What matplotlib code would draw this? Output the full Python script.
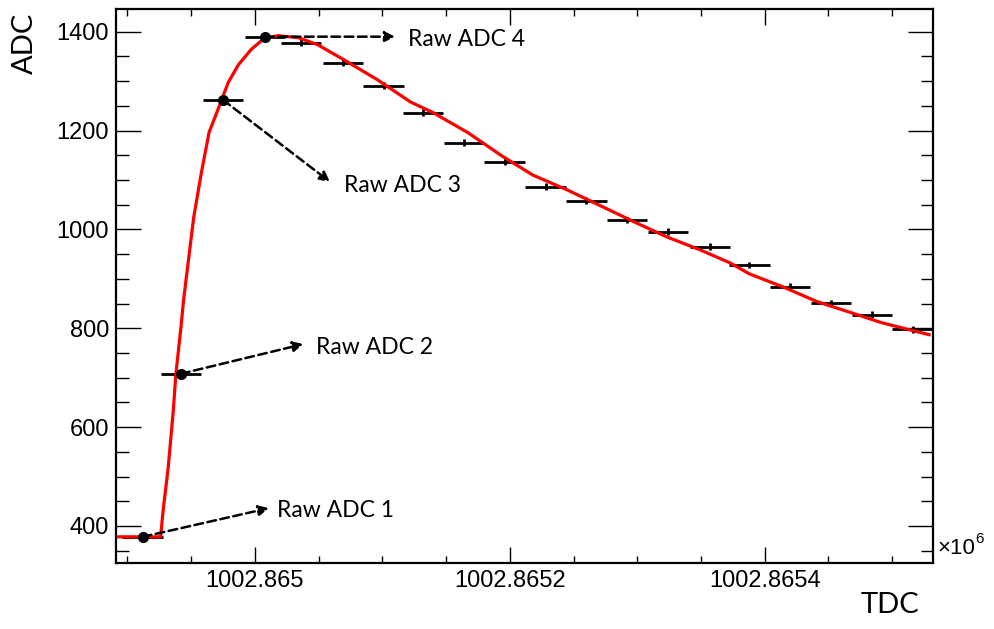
import matplotlib.pyplot as plt
from matplotlib.ticker import MultipleLocator, FuncFormatter

# bin centres (TDC) and measured ADC values
tdc = [1002864912, 1002864942, 1002864975, 1002865008, 1002865036,
       1002865069, 1002865101, 1002865132, 1002865164, 1002865196,
       1002865228, 1002865260, 1002865292, 1002865324, 1002865357,
       1002865388, 1002865420, 1002865452, 1002865484, 1002865516]
adc = [378, 708, 1262, 1390, 1378, 1337, 1291, 1236, 1175, 1137,
       1086, 1058, 1019, 995, 965, 928, 884, 851, 827, 798]
half_bin = 15.9
adc_err = 7

# raw samples marked with dots
raw_idx = [0, 1, 2, 3]
raw_labels = ["Raw ADC 1", "Raw ADC 2", "Raw ADC 3", "Raw ADC 4"]

# fitted pulse shape
fit_tdc = [1002864893, 1002864926, 1002864928, 1002864932, 1002864936,
           1002864938, 1002864942, 1002864944, 1002864952, 1002864958,
           1002864964, 1002864973, 1002864979, 1002864987, 1002864997,
           1002865007, 1002865018, 1002865034, 1002865049, 1002865070,
           1002865096, 1002865122, 1002865140, 1002865167, 1002865193,
           1002865218, 1002865245, 1002865271, 1002865297, 1002865323,
           1002865349, 1002865373, 1002865388, 1002865414, 1002865441,
           1002865466, 1002865492, 1002865529]
fit_adc = [378, 378, 432, 519, 635, 708, 803, 857, 1025, 1115,
           1196, 1256, 1297, 1333, 1364, 1386, 1392, 1388, 1374, 1343,
           1303, 1258, 1236, 1196, 1150, 1110, 1080, 1048, 1016, 985,
           959, 932, 910, 884, 854, 833, 811, 787]

fig = plt.figure(figsize=(9.94, 6.29), dpi=100)
ax = fig.add_axes([0.1167, 0.1049, 0.8219, 0.8808])

ax.errorbar(tdc, adc, xerr=half_bin, yerr=adc_err, fmt='none',
            ecolor='black', elinewidth=2, capsize=0, zorder=2)
ax.plot(fit_tdc, fit_adc, color='red', lw=2.3, zorder=3)
ax.plot([tdc[i] for i in raw_idx], [adc[i] for i in raw_idx], 'o',
        color='black', ms=7, zorder=4)

# dashed arrows to the labels (end points in data coords)
ends = [(1002865011, 436), (1002865038, 768), (1002865059, 1096), (1002865110, 1390)]
texts = [(1002865017, 432), (1002865048, 762), (1002865070, 1088), (1002865120, 1384)]
for i, lab, e, t in zip(raw_idx, raw_labels, ends, texts):
    ax.annotate('', xy=e, xytext=(tdc[i], adc[i]),
                arrowprops=dict(arrowstyle='-|>', color='black', lw=1.8,
                                linestyle=(0, (3.5, 1.8)), mutation_scale=15,
                                shrinkA=0, shrinkB=0), zorder=5)
    ax.text(t[0], t[1], lab, fontsize=16.5, family='Lato', va='center', ha='left')

ax.set_xlim(1002864891, 1002865532)
ax.set_ylim(325, 1446)

ax.xaxis.set_major_locator(MultipleLocator(200))
ax.xaxis.set_minor_locator(MultipleLocator(50))
ax.yaxis.set_major_locator(MultipleLocator(200))
ax.yaxis.set_minor_locator(MultipleLocator(50))
ax.xaxis.set_major_formatter(FuncFormatter(lambda v, p: f"{v / 1e6:.7f}".rstrip('0')))

ax.tick_params(axis='both', which='both', direction='in', top=True, right=True,
               width=1, labelsize=17, labelfontfamily='Liberation Sans')
ax.tick_params(axis='x', which='major', length=11.5, pad=5)
ax.tick_params(axis='x', which='minor', length=5)
ax.tick_params(axis='y', which='major', length=18, pad=5)
ax.tick_params(axis='y', which='minor', length=9)
for s in ax.spines.values():
    s.set_linewidth(1.6)

fig.text(937 / 994, 1 - 548 / 629, '×10', fontsize=16,
         family='Liberation Sans', va='center', ha='left')
fig.text(975 / 994, 1 - 539 / 629, '6', fontsize=11,
         family='Liberation Sans', va='center', ha='left')
fig.text(25 / 994, 1 - 43 / 629, 'ADC', rotation=90, fontsize=21,
         family='Lato', va='center', ha='center')
fig.text(890 / 994, 1 - 605 / 629, 'TDC', fontsize=21,
         family='Lato', va='center', ha='center')

plt.savefig('out.png', dpi=100)
